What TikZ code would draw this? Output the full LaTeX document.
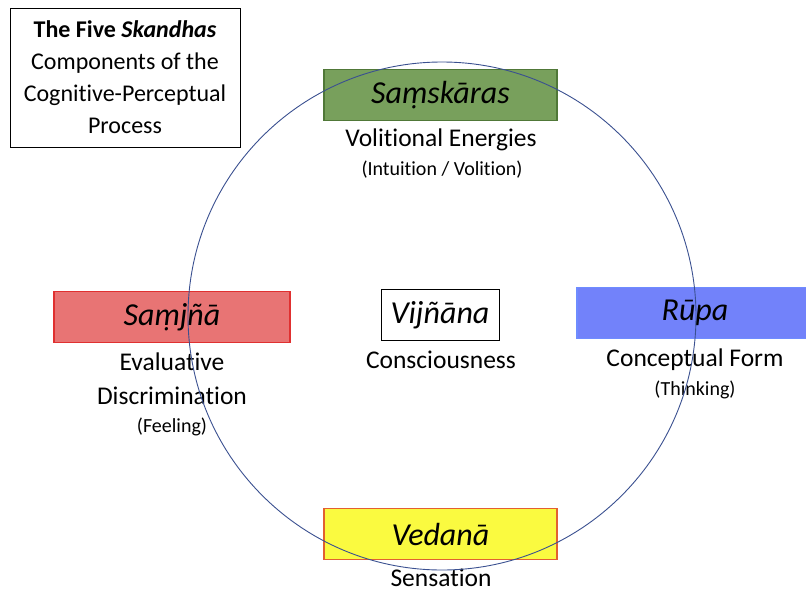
\documentclass[tikz,border=0pt]{standalone}
\usepackage{fontspec}
\setmainfont{Carlito}[Ligatures=NoCommon]
\usetikzlibrary{positioning}

\definecolor{samskaragreen}{RGB}{120,160,92}
\definecolor{samskaraedge}{RGB}{80,120,56}
\definecolor{samjnared}{RGB}{232,116,116}
\definecolor{samjnaedge}{RGB}{224,48,48}
\definecolor{rupablue}{RGB}{114,130,250}
\definecolor{rupaedge}{RGB}{110,140,255}
\definecolor{vedanayellow}{RGB}{250,250,64}
\definecolor{vedanaedge}{RGB}{226,96,48}
\definecolor{ringblue}{RGB}{58,80,144}

\begin{document}
\begin{tikzpicture}[
    x=1pt, y=-1pt,
    every node/.style={align=center, inner sep=0pt,
                       font=\fontsize{25.5}{30}\selectfont},
    skandha/.style={draw, line width=1.1pt, minimum width=233pt,
                    minimum height=51pt, font=\fontsize{32}{36}\selectfont\itshape},
    note/.style={font=\fontsize{20}{24}\selectfont}
  ]
  \useasboundingbox (0,0) rectangle (806,592);

  \node[draw, line width=0.8pt, minimum width=230pt, minimum height=139pt,
        font=\fontsize{24}{32}\selectfont] (title) at (125,77.5)
    {\textbf{The Five \textit{Skandhas}}\\Components of the\\Cognitive-Perceptual\\Process};

  % the five aggregates
  \node[skandha, fill=samskaragreen, draw=samskaraedge] (samskara) at (440.5,95) {Saṃskāras};
  \node (volition) at (441,140) {Volitional Energies};
  \node[note] (volitionnote) at (442,170) {(Intuition / Volition)};

  \node[skandha, fill=samjnared, draw=samjnaedge, minimum width=236pt] (samjna) at (172,317) {Saṃjñā};
  \node[font=\fontsize{25.5}{34}\selectfont] (discrimination) at (172,379) {Evaluative\\Discrimination};
  \node[note] (feeling) at (172,427) {(Feeling)};

  \node[draw, line width=0.8pt, fill=white, minimum width=118pt, minimum height=51pt,
        font=\fontsize{32}{36}\selectfont\itshape] (vijnana) at (440,315) {Vijñāna};
  \node (consciousness) at (441,360) {Consciousness};

  \node[skandha, fill=rupablue, draw=rupaedge, minimum width=236pt] (rupa) at (695,313) {Rūpa};
  \node (form) at (695,360) {Conceptual Form};
  \node[note] (thinking) at (695,390) {(Thinking)};

  \node[skandha, fill=vedanayellow, draw=vedanaedge] (vedana) at (440.5,534) {Vedanā};
  \node (sensation) at (441,578) {Sensation};

  % the ring over everything
  \node[draw=ringblue, line width=0.9pt, circle, minimum size=508pt] (wheel) at (442,316) {};
\end{tikzpicture}
\end{document}
